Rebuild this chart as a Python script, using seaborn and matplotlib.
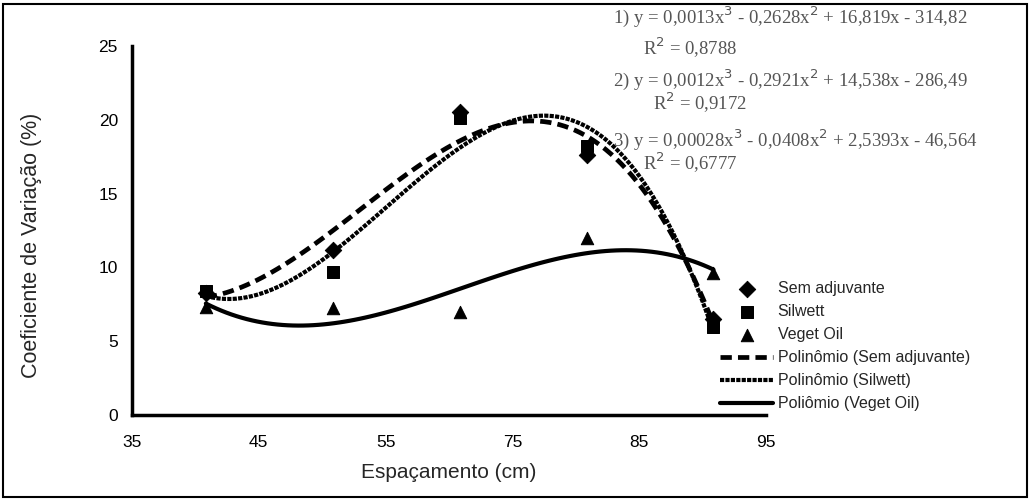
import matplotlib
matplotlib.use("Agg")
import matplotlib.pyplot as plt
import seaborn as sns
import pandas as pd
from matplotlib.patches import Rectangle

# data
espacamento = [42, 54, 66, 78, 90]
sem_adjuvante = [8.3, 11.2, 20.5, 17.6, 6.5]
silwett = [8.4, 9.7, 20.1, 18.2, 6.0]
veget_oil = [7.3, 7.25, 7.0, 12.0, 9.6]

x_ticks = [35, 47, 59, 71, 83, 95]
x_tick_labels = ["35", "45", "55", "75", "85", "95"]
y_ticks = [0, 5, 10, 15, 20, 25]

equacoes = [
    ("1) y = 0,0013x$^3$ - 0,2628x$^2$ + 16,819x - 314,82", "R$^2$ = 0,8788"),
    ("2) y = 0,0012x$^3$ - 0,2921x$^2$ + 14,538x - 286,49", "R$^2$ = 0,9172"),
    ("3) y = 0,00028x$^3$ - 0,0408x$^2$ + 2,5393x - 46,564", "R$^2$ = 0,6777"),
]

df = pd.DataFrame({"x": espacamento, "sem": sem_adjuvante,
                   "sil": silwett, "veg": veget_oil})

sns.set_style("white")
plt.rcParams["font.family"] = ["Liberation Sans", "DejaVu Sans"]

fig = plt.figure(figsize=(10.3, 4.99), dpi=100)
ax = fig.add_axes([0.128, 0.168, 0.616, 0.740])

# points
sns.scatterplot(data=df, x="x", y="sem", marker="D", s=70, color="black",
                edgecolor="black", ax=ax, label="Sem adjuvante", zorder=3)
sns.scatterplot(data=df, x="x", y="sil", marker="s", s=80, color="black",
                edgecolor="black", ax=ax, label="Silwett", zorder=3)
sns.scatterplot(data=df, x="x", y="veg", marker="^", s=80, color="black",
                edgecolor="black", ax=ax, label="Veget Oil", zorder=3)

# cubic trend lines
sns.regplot(data=df, x="x", y="sem", order=3, ci=None, scatter=False, ax=ax,
            label="Polinômio (Sem adjuvante)",
            line_kws={"color": "black", "lw": 3.4, "ls": (0, (2.4, 1.3))})
sns.regplot(data=df, x="x", y="sil", order=3, ci=None, scatter=False, ax=ax,
            label="Polinômio (Silwett)",
            line_kws={"color": "black", "lw": 3.0, "ls": (0, (1.0, 0.3))})
sns.regplot(data=df, x="x", y="veg", order=3, ci=None, scatter=False, ax=ax,
            label="Poliômio (Veget Oil)",
            line_kws={"color": "black", "lw": 3.0, "ls": "-"})

ax.set_xlim(35, 95)
ax.set_ylim(0, 25)
ax.set_xticks(x_ticks)
ax.set_xticklabels(x_tick_labels)
ax.set_yticks(y_ticks)
ax.tick_params(axis="both", direction="out", length=4, width=2.5,
               labelsize=12.5, colors="black", pad=6)
ax.tick_params(axis="x", pad=10)

for side in ["top", "right"]:
    ax.spines[side].set_visible(False)
for side in ["left", "bottom"]:
    ax.spines[side].set_linewidth(2.5)
    ax.spines[side].set_color("black")

ax.set_xlabel("Espaçamento (cm)", fontsize=15)
ax.set_ylabel("Coeficiente de Variação (%)", fontsize=15.5)
ax.xaxis.set_label_coords(0.50, -0.154)
ax.yaxis.set_label_coords(-0.158, 0.46)
ax.xaxis.label.set_va("center")
ax.yaxis.label.set_va("center")

ax.legend(loc="upper left", bbox_to_anchor=(0.693, 0.449),
          bbox_transform=fig.transFigure, frameon=False, fontsize=11.5,
          handlelength=3.3, handletextpad=0.3, labelspacing=0.5,
          borderaxespad=0)

# regression equations
eq_font = ["Liberation Serif", "DejaVu Serif"]
eq_y = [(17, 48, 690), (80, 103, 700), (140, 163, 690)]
for (eq, r2), (y1, y2, xr) in zip(equacoes, eq_y):
    fig.text(613 / 1030, 1 - y1 / 499, eq, family=eq_font, fontsize=13.5,
             color="#555555", ha="left", va="center")
    fig.text(xr / 1030, 1 - y2 / 499, r2, family=eq_font, fontsize=13.5,
             color="#555555", ha="center", va="center")

fig.patches.append(Rectangle((0.003, 0.004), 0.994, 0.988, transform=fig.transFigure,
                             fill=False, edgecolor="black", lw=1.5))

fig.savefig("out.png", dpi=100)
